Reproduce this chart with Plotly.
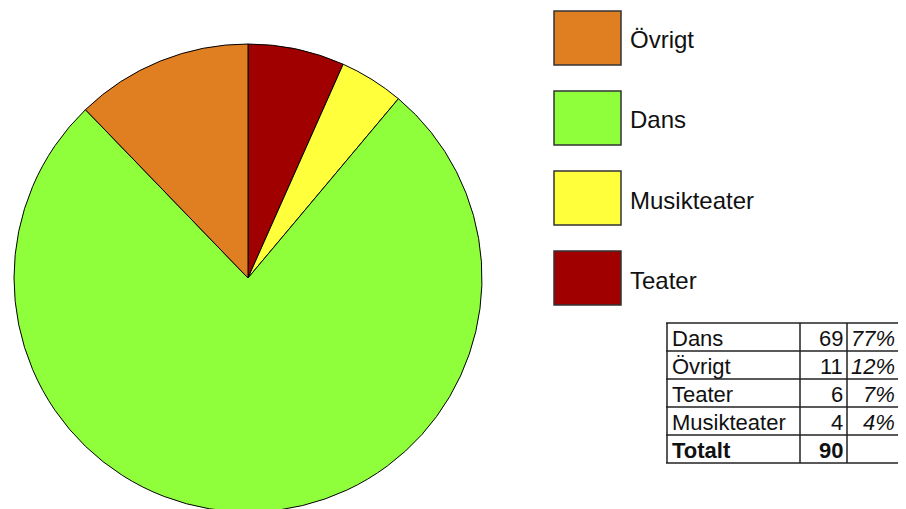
import plotly.graph_objects as go

# Data
categories = ["Teater", "Musikteater", "Dans", "Övrigt"]
values = [6, 4, 69, 11]
colors = ["#A00000", "#FFFF3C", "#8FFF3C", "#E07E22"]

legend_order = ["Övrigt", "Dans", "Musikteater", "Teater"]
table_order = ["Dans", "Övrigt", "Teater", "Musikteater"]
total_label = "Totalt"

W, H = 890, 540
OFF = 8  # page body margin
FONT = "Liberation Sans"


def px(x):
    return (x - OFF) / W


def py(y):
    return 1 - (y - OFF) / H


fig = go.Figure()
cx, cy, rad = 248, 278, 234
fig.add_trace(go.Pie(
    labels=categories, values=values, sort=False, direction="clockwise", rotation=0,
    marker=dict(colors=colors, line=dict(color="#000000", width=1)),
    textinfo="none", hoverinfo="label+value+percent", showlegend=False,
    domain=dict(x=[px(cx - rad), px(cx + rad)], y=[py(cy + rad), py(cy - rad)]),
))

shapes = []
annotations = []
color_of = dict(zip(categories, colors))
val_of = dict(zip(categories, values))

# Custom legend
for i, name in enumerate(legend_order):
    top = 11 + i * 80
    shapes.append(dict(type="rect", xref="paper", yref="paper",
                       x0=px(554), x1=px(621), y0=py(top + 54), y1=py(top),
                       fillcolor=color_of[name], line=dict(color="#333333", width=1.5)))
    annotations.append(dict(xref="paper", yref="paper", x=px(628), y=py(top + 29),
                            text=name, showarrow=False, xanchor="left", yanchor="middle",
                            font=dict(family=FONT, size=24, color="#111111")))

# Table
total = sum(values)
row_tops = [323 + 28 * k for k in range(6)]
col_x = [667, 800, 847]
rows = [(n, str(val_of[n]), f"{round(100 * val_of[n] / total)}%") for n in table_order]
rows.append((total_label, str(total), ""))
for r, (a, b, c) in enumerate(rows):
    yc = (row_tops[r] + row_tops[r + 1]) / 2 + 1
    bold = r == len(rows) - 1
    fa = dict(family=FONT, size=22, color="#111111")
    ta = f"<b>{a}</b>" if bold else a
    tb = f"<b>{b}</b>" if bold else b
    annotations.append(dict(xref="paper", yref="paper", x=px(670), y=py(yc), text=ta,
                            showarrow=False, xanchor="left", yanchor="middle", font=fa))
    annotations.append(dict(xref="paper", yref="paper", x=px(845), y=py(yc), text=tb,
                            showarrow=False, xanchor="right", yanchor="middle", font=fa))
    if c:
        annotations.append(dict(xref="paper", yref="paper", x=px(897), y=py(yc), text=f"<i>{c}</i>",
                                showarrow=False, xanchor="right", yanchor="middle", font=fa))

for yv in row_tops:
    shapes.append(dict(type="line", xref="paper", yref="paper", x0=px(666), x1=px(920),
                       y0=py(yv), y1=py(yv), line=dict(color="#222222", width=1.5)))
for xv in col_x:
    shapes.append(dict(type="line", xref="paper", yref="paper", x0=px(xv), x1=px(xv),
                       y0=py(row_tops[0]), y1=py(row_tops[-1]), line=dict(color="#222222", width=1.5)))

fig.update_layout(width=W, height=H, margin=dict(l=0, r=0, t=0, b=0),
                  paper_bgcolor="white", plot_bgcolor="white",
                  shapes=shapes, annotations=annotations)

fig.write_html("out.html", post_script="document.body.style.overflow='hidden';")
